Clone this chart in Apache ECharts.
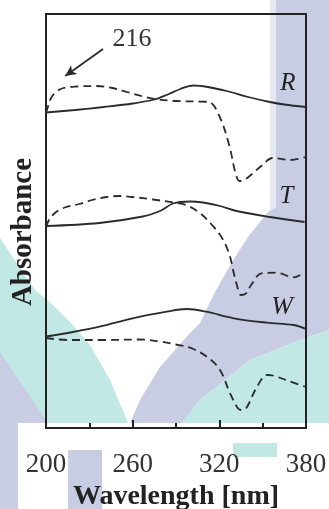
<!DOCTYPE html>
<html>
<head>
<meta charset="utf-8">
<title>Absorbance spectra</title>
<script src="https://cdn.jsdelivr.net/npm/echarts@6/dist/echarts.min.js"></script>
<style>
  html, body { margin: 0; padding: 0; background: #ffffff; }
  #wrap { position: relative; width: 329px; height: 509px; }
  #backdrop { position: absolute; left: 0; top: 0; }
  #chart { position: absolute; left: 0; top: 0; width: 329px; height: 509px; }
</style>
</head>
<body>
<div id="wrap">
  <!-- faint logo shapes printed behind the figure -->
  <svg id="backdrop" width="329" height="509" xmlns="http://www.w3.org/2000/svg">
    <rect x="270" y="0" width="6" height="212" fill="#e6e8f2"/>
    <polygon fill="#c9cde3" points="276,0 329,0 329,330 300,340 250,360 200,400 182,423 130,423 140,400 160,367 190,333 200,323 215,292 232,262 248,237 268,212 276,208"/>
    <polygon fill="#c1e8e5" points="329,330 300,340 250,360 200,400 182,423 329,423"/>
    <polygon fill="#c1e8e5" points="0,238 20,268 35,290 53,305 70,322 90,345 110,380 128,423 0,423"/>
    <polygon fill="#c9cde3" points="0,352 48,423 0,423"/>
    <rect x="0" y="423" width="18" height="86" fill="#c9cde3"/>
    <rect x="68" y="450" width="34" height="59" fill="#c9cde3"/>
    <rect x="233" y="443" width="44" height="14" fill="#c1e8e5"/>
  </svg>
  <div id="chart"></div>
</div>
<script>
// Wavelength axis ticks (nm)
const xTicks = [200, 260, 320, 380];

// Spectra, [wavelength nm, absorbance a.u. (stacked with offsets)]
const rSolid = [[200,3.155],[220,3.18],[240,3.21],[260,3.245],[275,3.285],[285,3.34],[293,3.39],[302,3.425],[312,3.41],[325,3.37],[340,3.31],[355,3.26],[365,3.235],[380,3.21]];
const rDashed = [[200,3.15],[201.5,3.22],[203.5,3.30],[207,3.36],[212,3.40],[222,3.415],[235,3.42],[246,3.40],[256,3.36],[266,3.32],[275,3.29],[290,3.27],[305,3.265],[313,3.26],[320,3.12],[327,2.82],[331,2.56],[334,2.47],[337,2.48],[341,2.52],[349,2.62],[357,2.70],[369,2.68],[380,2.71]];

const tSolid = [[200,2.02],[237,2.05],[267,2.115],[279,2.17],[288,2.245],[299.7,2.265],[308.7,2.255],[320.5,2.22],[332,2.17],[355,2.11],[379,2.06]];
const tDashed = [[200,2.01],[202.5,2.09],[207,2.16],[213,2.205],[223,2.24],[232,2.28],[242,2.31],[251,2.32],[260,2.31],[274,2.285],[288,2.255],[297,2.23],[306.5,2.15],[316,2.013],[322.7,1.88],[327.4,1.713],[329.5,1.58],[331.8,1.447],[335,1.33],[338.5,1.347],[342,1.43],[349,1.547],[359,1.553],[372,1.507],[376,1.53]];

const wSolid = [[200,0.915],[218.7,0.96],[237,1.013],[260,1.097],[283.5,1.163],[297.3,1.19],[311,1.163],[330,1.097],[353,1.053],[371.5,1.03],[380,0.99]];
const wDashed = [[200,0.90],[215,0.88],[240,0.88],[265,0.885],[279,0.865],[290,0.835],[302,0.79],[313,0.695],[320.5,0.58],[327.4,0.347],[333,0.195],[335.5,0.18],[338.7,0.20],[346,0.41],[353,0.53],[357,0.525],[368,0.47],[380,0.41]];

// Sample names shown next to each pair of curves
const sampleNames = ['R', 'T', 'W'];

// Annotation: sample number with an arrow to the R dashed spectrum
const noteText = '216';
const noteAnchor = [259.5, 3.89];
const arrowFrom = [239.5, 3.79];
const arrowTo = [213.3, 3.52];

const yMin = 0, yMax = 4.14;

const ink = '#2b2b2b';
const frame = '#222';
const serif = '"Liberation Serif", "DejaVu Serif", serif';

function solidSeries(data, name, offset, size) {
  return {
    type: 'line', data: data, showSymbol: false, smooth: 0.35,
    lineStyle: { color: ink, width: 1.8 },
    endLabel: {
      show: true, formatter: name, offset: offset, distance: 0,
      align: 'center', verticalAlign: 'middle',
      fontFamily: serif, fontStyle: 'italic', fontSize: size, color: '#222'
    },
    z: 4
  };
}
function dashedSeries(data) {
  return {
    type: 'line', data: data, showSymbol: false, smooth: 0.35,
    lineStyle: { color: ink, width: 1.8, type: [8, 5] },
    z: 4
  };
}

// plain axis used only to close the frame on the top / right sides
function frameAxis(position, min, max) {
  return {
    type: 'value', position: position, min: min, max: max, z: 3,
    axisLine: { show: true, onZero: false, lineStyle: { color: frame, width: 2 } },
    axisTick: { show: false }, axisLabel: { show: false }, splitLine: { show: false }
  };
}

const chart = echarts.init(document.getElementById('chart'), null, { renderer: 'canvas' });

const rDashedSeries = dashedSeries(rDashed);
rDashedSeries.markLine = {
  silent: true, animation: false,
  symbol: ['none', 'arrow'], symbolSize: [8, 11],
  lineStyle: { color: ink, width: 1.8, type: 'solid' },
  label: { show: false },
  data: [[{ coord: arrowFrom }, { coord: arrowTo }]]
};
rDashedSeries.markPoint = {
  silent: true, animation: false,
  symbol: 'circle', symbolSize: 1, itemStyle: { color: 'transparent' },
  label: { show: true, position: 'inside', formatter: noteText, fontFamily: serif, fontSize: 26, color: '#333' },
  data: [{ coord: noteAnchor }]
};

chart.setOption({
  animation: false,
  backgroundColor: 'transparent',
  grid: {
    left: 46, right: 23, top: 14, bottom: 81,
    outerBoundsMode: 'none', containLabel: false, show: false
  },
  xAxis: [{
    type: 'value', min: xTicks[0], max: xTicks[xTicks.length - 1], interval: 60, z: 3,
    position: 'bottom',
    axisLine: { show: true, onZero: false, lineStyle: { color: frame, width: 2 } },
    axisTick: { show: true, inside: true, length: 8, lineStyle: { color: frame, width: 2 } },
    minorTick: { show: true, splitNumber: 2, length: 5, lineStyle: { color: frame, width: 2 } },
    splitLine: { show: false },
    axisLabel: { fontFamily: serif, fontSize: 27, color: '#333', margin: 23 },
    name: 'Wavelength [nm]', nameLocation: 'middle', nameGap: 55,
    nameTextStyle: { fontFamily: serif, fontWeight: 'bold', fontSize: 28, color: '#222' }
  }, frameAxis('top', xTicks[0], xTicks[xTicks.length - 1])],
  yAxis: [{
    type: 'value', min: yMin, max: yMax, z: 3, position: 'left',
    axisLine: { show: true, onZero: false, lineStyle: { color: frame, width: 2 } },
    axisTick: { show: false }, axisLabel: { show: false }, splitLine: { show: false },
    name: 'Absorbance', nameLocation: 'middle', nameGap: 8,
    nameTextStyle: { fontFamily: serif, fontWeight: 'bold', fontSize: 29, color: '#222', padding: [0, 22, 0, 0] }
  }, frameAxis('right', yMin, yMax)],
  series: [
    solidSeries(rSolid, sampleNames[0], [-18, -24], 25),
    rDashedSeries,
    solidSeries(tSolid, sampleNames[1], [-18, -26], 25),
    dashedSeries(tDashed),
    solidSeries(wSolid, sampleNames[2], [-24, -22], 26),
    dashedSeries(wDashed)
  ]
});
</script>
</body>
</html>
